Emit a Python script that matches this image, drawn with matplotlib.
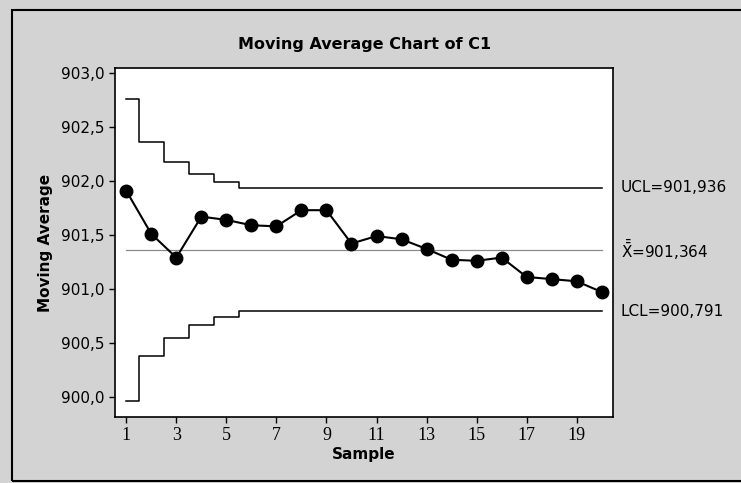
import matplotlib
matplotlib.use("Agg")
import matplotlib.pyplot as plt
from matplotlib.patches import Rectangle

# data
samples = list(range(1, 21))
moving_avg = [901.91, 901.51, 901.29, 901.67, 901.64, 901.59, 901.58, 901.73, 901.73, 901.42,
              901.49, 901.46, 901.37, 901.27, 901.26, 901.29, 901.11, 901.09, 901.07, 900.97]
ucl = [902.765, 902.365, 902.181, 902.065, 901.995] + [901.936] * 15
lcl = [899.963, 900.373, 900.547, 900.664, 900.735] + [900.791] * 15
center = 901.364
labels = ["UCL=901,936", "$\\mathdefault{\\bar{\\bar{X}}}$=901,364", "LCL=900,791"]
label_y = [901.936, 901.364, 900.791]
yticks = [900.0, 900.5, 901.0, 901.5, 902.0, 902.5, 903.0]
xticks = [1, 3, 5, 7, 9, 11, 13, 15, 17, 19]

fig = plt.figure(figsize=(7.41, 4.83), dpi=100)
fig.patch.set_facecolor("#d3d3d3")
# outer border of the scanned graph window
fig.patches.append(Rectangle((12 / 741, 2 / 483), 740 / 741, 471 / 483, transform=fig.transFigure,
                             fill=False, edgecolor="black", lw=1.5))

ax = fig.add_axes([115 / 741, 66 / 483, 498 / 741, 349 / 483])
ax.set_facecolor("white")

ax.plot(samples, ucl, drawstyle="steps-mid", color="black", lw=1.1)
ax.plot(samples, lcl, drawstyle="steps-mid", color="black", lw=1.1)
ax.plot([samples[0], samples[-1]], [center, center], color="#8a8a8a", lw=0.9)
ax.plot(samples, moving_avg, color="black", lw=1.5, marker="o", markersize=9)

ax.set_xlim(0.55, 20.45)
ax.set_ylim(899.81, 903.05)
ax.set_xticks(xticks)
ax.set_xticklabels([str(t) for t in xticks], family="Liberation Serif", fontsize=13)
ax.set_yticks(yticks)
ax.set_yticklabels([f"{t:.1f}".replace(".", ",") for t in yticks], fontsize=11)
ax.tick_params(direction="out", length=4, width=1, color="black")
for s in ax.spines.values():
    s.set_linewidth(1.2)

for txt, yv in zip(labels, label_y):
    ax.text(20.75, yv, txt, fontsize=11, va="center", ha="left", clip_on=False)

ax.set_xlabel("Sample", fontsize=11, fontweight="bold", labelpad=2)
ax.set_ylabel("Moving Average", fontsize=11, fontweight="bold", labelpad=6)
fig.text(365 / 741, 1 - 45 / 483, "Moving Average Chart of C1", fontsize=11.5, fontweight="bold",
         ha="center", va="center")

fig.savefig("out.png", dpi=100, facecolor=fig.get_facecolor())
